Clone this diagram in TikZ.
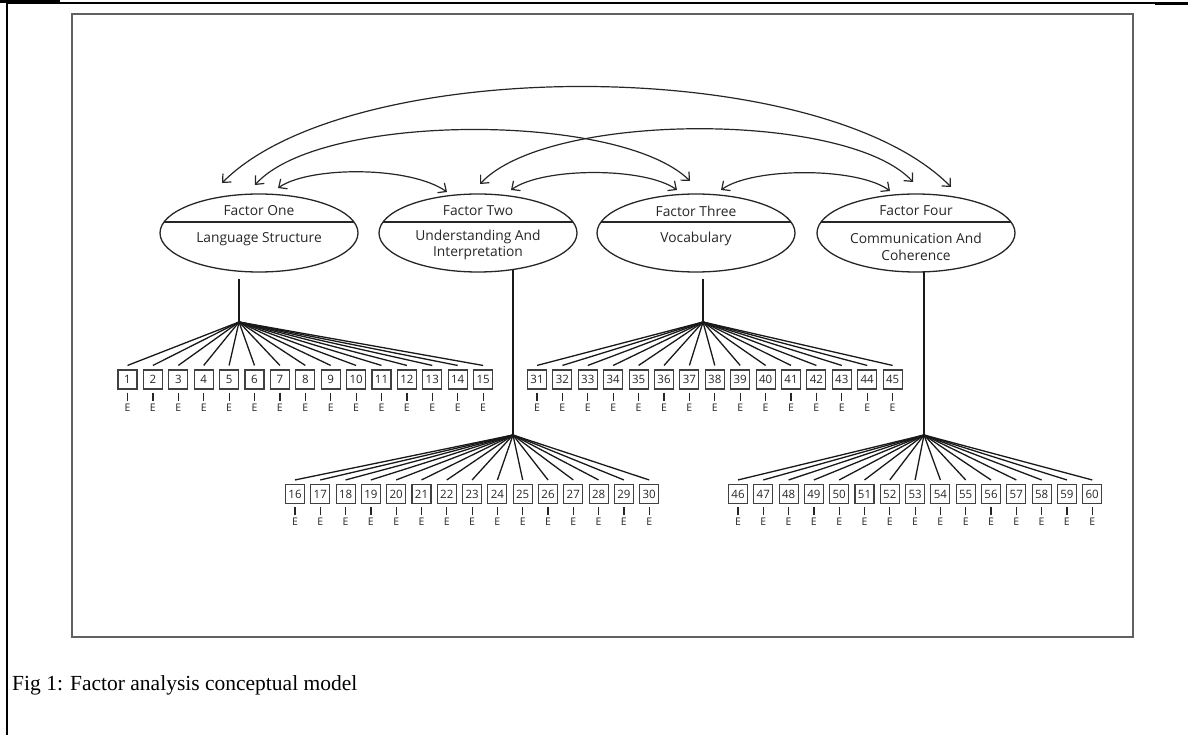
\documentclass[tikz,border=0pt]{standalone}
\usepackage{fontspec}
\setmainfont{Liberation Serif}
\newfontfamily\dfont{Open Sans}
\usetikzlibrary{shapes.geometric,arrows.meta,calc}
\begin{document}
\begin{tikzpicture}[x=1pt,y=-1pt,
  factor/.style={draw=black!85, line width=1.3pt, ellipse, minimum width=198pt, minimum height=78pt, inner sep=0pt},
  ftext/.style={font=\dfont\fontsize{13.8}{16.5}\selectfont, align=center, inner sep=0pt, text=black!85},
  itembox/.style={draw=black!75, line width=1.1pt, minimum width=19pt, minimum height=19pt, inner sep=0pt, font=\dfont\fontsize{11.5}{12}\selectfont, text=black!85},
  errlab/.style={font=\dfont\fontsize{10.5}{11}\selectfont, inner sep=0pt, text=black!85},
  fan/.style={line width=1.3pt, draw=black!90},
  stemline/.style={line width=1.2pt, draw=black!85},
  corr/.style={line width=1.2pt, draw=black!85, {Straight Barb[length=6.5pt,width=12pt]}-{Straight Barb[length=6.5pt,width=12pt]}},
  divider/.style={line width=1.2pt, draw=black!85},
]
\useasboundingbox (0,0) rectangle (1188,735);
% page frame
\draw[line width=1.6pt] (7,3) -- (1188,3);
\draw[line width=2pt] (7,2) -- (7,735);
\fill (0,0) rectangle (60,3.5);
\fill (1155,3) rectangle (1188,5.5);
% inner frame
\draw[draw=black!62, line width=1.8pt] (72,14) rectangle (1133,637);

% factors
\node[factor] (f1) at (259,233) {};
\node[factor] (f2) at (478,233) {};
\node[factor] (f3) at (696,233) {};
\node[factor] (f4) at (916,233) {};
\foreach \f in {f1,f2,f3,f4}{
  \draw[divider] ($(\f.center)+(-95,-11)$) -- ($(\f.center)+(95,-11)$);
}
\node[ftext] (f1t) at (259,211) {Factor One};
\node[ftext] (f1s) at (259,239) {Language Structure};
\node[ftext] (f2t) at (478,211) {Factor Two};
\node[ftext] (f2s) at (478,245) {Understanding And\\Interpretation};
\node[ftext] (f3t) at (696,211) {Factor Three};
\node[ftext] (f3s) at (696,239) {Vocabulary};
\node[ftext] (f4t) at (916,211) {Factor Four};
\node[ftext] (f4s) at (916,247) {Communication And\\Coherence};

% apexes
\coordinate (a1) at (239,322);
\coordinate (a2) at (513,435);
\coordinate (a3) at (703,322);
\coordinate (a4) at (924,435);
\draw[fan] ([yshift=-6pt]f1.south -| a1) -- (a1);
\draw[fan] ([yshift=2.5pt]f2.south -| a2) -- (a2);
\draw[fan] ([yshift=-6pt]f3.south -| a3) -- (a3);
\draw[fan] ([yshift=0.5pt]f4.south -| a4) -- (a4);

% items row 1
\foreach \i in {1,...,15}{
  \pgfmathsetmacro\xx{127.5+(\i-1)*25.4}
  \node[itembox] (b\i) at (\xx,379.5) {\i};
  \node[errlab] (e\i) at (\xx,408) {E};
  \draw[stemline] ([yshift=-3pt]b\i.south) -- ++(0,8);
  \draw[fan] (a1) -- ([yshift=4pt]b\i.north);
}
\foreach \i in {31,...,45}{
  \pgfmathsetmacro\xx{537+(\i-31)*25.4}
  \node[itembox] (b\i) at (\xx,379.5) {\i};
  \node[errlab] (e\i) at (\xx,408) {E};
  \draw[stemline] ([yshift=-3pt]b\i.south) -- ++(0,8);
  \draw[fan] (a3) -- ([yshift=4pt]b\i.north);
}
% items row 2
\foreach \i in {16,...,30}{
  \pgfmathsetmacro\xx{295+(\i-16)*25.3}
  \node[itembox] (b\i) at (\xx,494) {\i};
  \node[errlab] (e\i) at (\xx,522) {E};
  \draw[stemline] ([yshift=-3pt]b\i.south) -- ++(0,8);
  \draw[fan] (a2) -- ([yshift=4pt]b\i.north);
}
\foreach \i in {46,...,60}{
  \pgfmathsetmacro\xx{738+(\i-46)*25.3}
  \node[itembox] (b\i) at (\xx,494) {\i};
  \node[errlab] (e\i) at (\xx,522) {E};
  \draw[stemline] ([yshift=-3pt]b\i.south) -- ++(0,8);
  \draw[fan] (a4) -- ([yshift=4pt]b\i.north);
}

% correlation arrow ends
\coordinate (p12) at (278,188); \coordinate (q12) at (447,192);
\coordinate (p23) at (511,190); \coordinate (q23) at (677,190);
\coordinate (p34) at (721,190); \coordinate (q34) at (890,191);
\coordinate (p13) at (255,185); \coordinate (q13) at (690,181);
\coordinate (p24) at (480,184); \coordinate (q24) at (913,182);
\coordinate (p14) at (222,183); \coordinate (q14) at (951,187);
\draw[corr] (p12) .. controls (310,166) and (410,166) .. (q12);
\draw[corr] (p23) .. controls (543,167) and (645,167) .. (q23);
\draw[corr] (p34) .. controls (753,167) and (858,167) .. (q34);
\draw[corr] (p13) .. controls (320,112) and (620,112) .. (q13);
\draw[corr] (p24) .. controls (548,111) and (848,111) .. (q24);
\draw[corr] (p14) .. controls (350,54) and (820,54) .. (q14);

% caption
\node[anchor=base west, inner sep=0pt, font=\fontsize{21.5}{24}\selectfont] (cap) at (12,690) {Fig 1: Factor analysis conceptual model};
\end{tikzpicture}
\end{document}
